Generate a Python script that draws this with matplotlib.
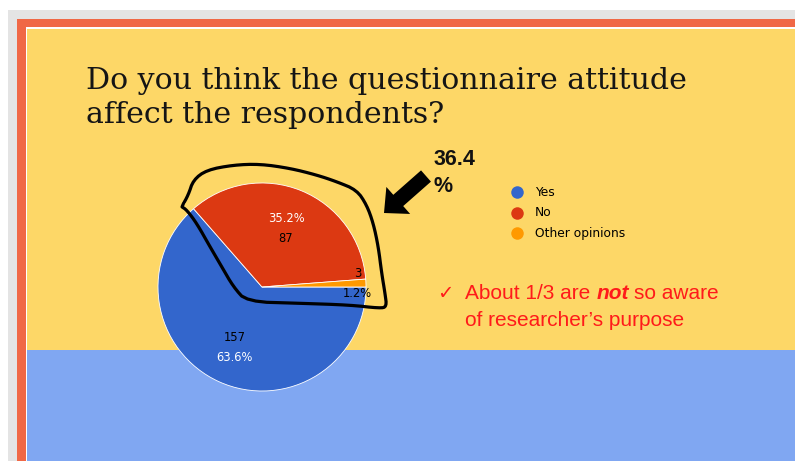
import matplotlib
matplotlib.use("Agg")
import matplotlib.pyplot as plt
from matplotlib.patches import Rectangle, FancyArrow
import numpy as np

# --- data -------------------------------------------------------------
categories = ["Yes", "No", "Other opinions"]
counts = [157, 87, 3]
percent_labels = ["63.6%", "35.2%", "1.2%"]
colors = ["#3366CC", "#DC3912", "#FF9900"]
callout_lines = ["36.4", "%"]
title_lines = ["Do you think the questionnaire attitude", "affect the respondents?"]

W, H = 795, 461
fig = plt.figure(figsize=(W / 100, H / 100), dpi=100)
fig.patch.set_facecolor("white")

# --- slide background (pixel coordinates) -----------------------------
bg = fig.add_axes([0, 0, 1, 1])
bg.set_xlim(0, W)
bg.set_ylim(H, 0)
bg.axis("off")
bg.add_patch(Rectangle((8, 10), W, H, color="#E4E4E4", lw=0))
bg.add_patch(Rectangle((17, 19), W, H, color="#F06846", lw=0))
bg.add_patch(Rectangle((25.5, 27), W, H, color="#FFFFFF", lw=0))
bg.add_patch(Rectangle((27, 29), W, H, color="#FDD767", lw=0))
bg.add_patch(Rectangle((27, 350), W, H, color="#80A7F2", lw=0))

for k, line in enumerate(title_lines):
    bg.text(86, 89 + 34 * k, line, fontsize=21.6, family="DejaVu Serif",
            color="#151515", ha="left", va="baseline")

# --- pie --------------------------------------------------------------
cx, cy, R = 262, 287, 104
pie_ax = fig.add_axes([(cx - R) / W, (H - cy - R) / H, 2 * R / W, 2 * R / H])
wedges, _ = pie_ax.pie(counts, colors=colors, startangle=0, counterclock=False,
                       radius=1.0, wedgeprops=dict(edgecolor="white", linewidth=0.6))
pie_ax.set_xlim(-1, 1)
pie_ax.set_ylim(-1, 1)
pie_ax.set_aspect("equal")
pie_ax.axis("off")

label_r = [0.64, 0.61, 0.92]
for i, w in enumerate(wedges):
    mid = np.deg2rad((w.theta1 + w.theta2) / 2)
    x, y = label_r[i] * np.cos(mid), label_r[i] * np.sin(mid)
    if i == 1:
        top, bot, ctop, cbot = percent_labels[i], str(counts[i]), "white", "black"
    elif i == 0:
        top, bot, ctop, cbot = str(counts[i]), percent_labels[i], "black", "white"
    else:
        top, bot, ctop, cbot = str(counts[i]), percent_labels[i], "black", "black"
    pie_ax.annotate(top, (x, y), xytext=(0, 10), textcoords="offset pixels",
                    ha="center", va="center", fontsize=8.3, color=ctop,
                    family="DejaVu Sans")
    pie_ax.annotate(bot, (x, y), xytext=(0, -10), textcoords="offset pixels",
                    ha="center", va="center", fontsize=8.3, color=cbot,
                    family="DejaVu Sans")

# --- annotations overlay ----------------------------------------------
ov = fig.add_axes([0, 0, 1, 1])
ov.set_xlim(0, W)
ov.set_ylim(H, 0)
ov.axis("off")
ov.patch.set_alpha(0)

loop = np.array([
    (181.7, 206.7), (188.3, 195), (193.3, 180), (206.7, 170), (233.3, 165),
    (260, 164), (290, 168.3), (316.7, 175), (336.7, 181.7), (356.7, 190),
    (366.7, 205), (373.3, 223.3), (378.3, 246.7), (381.7, 273.3), (385, 293.3),
    (386.7, 306.7), (380, 308.3), (350, 305), (300, 303.3), (246.7, 301.7),
    (233.3, 286.7), (221.7, 266.7), (210, 246.7), (196.7, 223.3), (186.7, 210),
    (181.7, 206.7)])


def chaikin(pts, n=2):
    for _ in range(n):
        q = 0.75 * pts[:-1] + 0.25 * pts[1:]
        r = 0.25 * pts[:-1] + 0.75 * pts[1:]
        pts = np.vstack([np.column_stack([q, r]).reshape(-1, 2), pts[:1]])
    return pts


sm = chaikin(loop, 2)
ov.plot(sm[:, 0], sm[:, 1], color="black", lw=2.3, solid_joinstyle="round",
        solid_capstyle="round")

tail = np.array([426, 176])
tip = np.array([384, 213])
ov.add_patch(FancyArrow(tail[0], tail[1], tip[0] - tail[0], tip[1] - tail[1],
                        width=15, head_width=36, head_length=19,
                        length_includes_head=True, color="black", lw=0))

for k, line in enumerate(callout_lines):
    ov.text(434, 165 + 27 * k, line, fontsize=15.5, fontweight="bold",
            family="Liberation Sans", color="#111111", ha="left", va="baseline")

# legend
for i, (cat, col) in enumerate(zip(categories, colors)):
    ly = 192 + 20.5 * i
    ov.plot([517], [ly], marker="o", ms=9, color=col, mec="none")
    ov.text(535, ly, cat, fontsize=8.8, family="DejaVu Sans", color="black",
            ha="left", va="center")

# remark
red = "#FF1A1A"
ov.text(437, 299, "\u2713", fontsize=14, color=red, family="DejaVu Sans",
        ha="left", va="baseline")
t1 = ov.text(465, 299, "About 1/3 are", fontsize=15, color=red,
             family="Liberation Sans", ha="left", va="baseline")
t2 = ov.annotate("not", xy=(1, 0), xycoords=t1, xytext=(4.5, 0),
                 textcoords="offset points", fontsize=15, color=red,
                 family="Liberation Sans", fontweight="bold", style="italic",
                 ha="left", va="bottom")
ov.annotate("so aware", xy=(1, 0), xycoords=t2, xytext=(3.5, 0),
            textcoords="offset points", fontsize=15, color=red,
            family="Liberation Sans", ha="left", va="bottom")
ov.text(465, 326, "of researcher\u2019s purpose", fontsize=15, color=red,
        family="Liberation Sans", ha="left", va="baseline")

fig.savefig("out.png", dpi=100)
